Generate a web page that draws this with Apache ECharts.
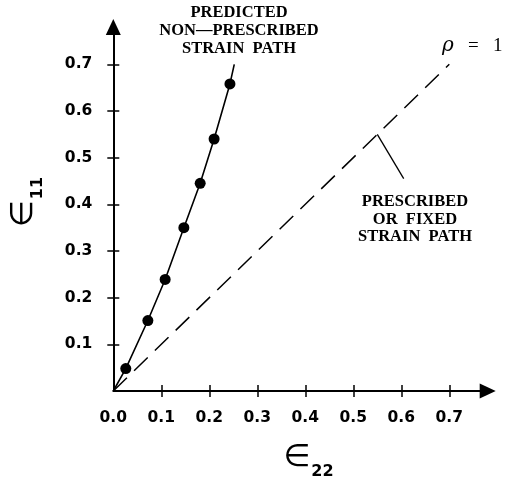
<!DOCTYPE html>
<html>
<head>
<meta charset="utf-8">
<script src="https://cdn.jsdelivr.net/npm/echarts@6/dist/echarts.min.js"></script>
<style>html,body{margin:0;padding:0;background:#fff}#c{width:506px;height:485px}</style>
</head>
<body>
<div id="c"></div>
<script>
// ---- data ----
const xTickValues = [0, 0.1, 0.2, 0.3, 0.4, 0.5, 0.6, 0.7];
const xTickLabels = ['0.0', '0.1', '0.2', '0.3', '0.4', '0.5', '0.6', '0.7'];
const yTickValues = [0.1, 0.2, 0.3, 0.4, 0.5, 0.6, 0.7];
const yTickLabels = ['0.1', '0.2', '0.3', '0.4', '0.5', '0.6', '0.7'];
// predicted non-prescribed strain path (measured points)
const predE22 = [0.026, 0.072, 0.108, 0.147, 0.181, 0.210, 0.243];
const predE11 = [0.048, 0.151, 0.239, 0.350, 0.445, 0.540, 0.658];
// predicted curve (origin, points, end)
const curveE22 = [0, 0.026, 0.072, 0.108, 0.147, 0.181, 0.210, 0.243, 0.252];
const curveE11 = [0, 0.048, 0.151, 0.239, 0.350, 0.445, 0.540, 0.658, 0.700];
// prescribed path rho = 1
const fixedE22 = [0, 0.7];
const fixedE11 = [0, 0.7];
// leader line for the prescribed-path label
const leaderE22 = [0.55, 0.605];
const leaderE11 = [0.55, 0.455];

const zip = (a, b) => a.map((v, i) => [v, b[i]]);
const lblMap = {};
xTickValues.forEach((v, i) => lblMap['x' + v] = xTickLabels[i]);
yTickValues.forEach((v, i) => lblMap['y' + v] = yTickLabels[i]);

const AX_MAX = 0.78;
const tickFont = {fontFamily: 'DejaVu Sans', fontWeight: 'bold', fontSize: 15.5, color: '#000'};
const annFont = {fontFamily: 'Liberation Serif', fontWeight: 'bold', fontSize: 16.5, fill: '#000'};
const titleRich = {
  e: {fontFamily: 'DejaVu Sans', fontSize: 31, color: '#000', verticalAlign: 'bottom'},
  s: {fontFamily: 'DejaVu Sans', fontWeight: 'bold', fontSize: 16, color: '#000', verticalAlign: 'bottom', padding: [0, 0, -7, 1]}
};

const chart = echarts.init(document.getElementById('c'));
chart.setOption({
  animation: false,
  backgroundColor: '#fff',
  grid: {left: 113.3, top: 27, width: 374.4, height: 369.7, containLabel: false},
  xAxis: [{
    type: 'value', min: 0, max: AX_MAX, position: 'bottom',
    splitLine: {show: false},
    axisLine: {show: true, onZero: false, symbol: ['none', 'triangle'], symbolSize: [15, 16],
      lineStyle: {color: '#000', width: 2}},
    axisTick: {show: true, length: 6, inside: false, customValues: xTickValues.slice(1),
      lineStyle: {color: '#000', width: 1.5}},
    axisLabel: Object.assign({show: true, margin: 19, customValues: xTickValues,
      formatter: v => lblMap['x' + Math.round(v * 10) / 10]}, tickFont),
    name: '{e|∈}{s|22}', nameLocation: 'middle', nameGap: 51,
    nameTextStyle: {padding: [0, 0, 0, 16], rich: titleRich}
  }, {
    type: 'value', min: 0, max: AX_MAX, position: 'bottom',
    splitLine: {show: false}, axisLine: {show: false},
    axisTick: {show: true, length: 6, inside: true, customValues: xTickValues.slice(1),
      lineStyle: {color: '#000', width: 1.5}},
    axisLabel: {show: false}
  }],
  yAxis: [{
    type: 'value', min: 0, max: AX_MAX, position: 'left',
    splitLine: {show: false},
    axisLine: {show: true, onZero: false, symbol: ['none', 'triangle'], symbolSize: [15, 16],
      lineStyle: {color: '#000', width: 2}},
    axisTick: {show: true, length: 6, inside: false, customValues: yTickValues,
      lineStyle: {color: '#000', width: 1.5}},
    axisLabel: Object.assign({show: true, margin: 21, customValues: yTickValues,
      formatter: v => lblMap['y' + Math.round(v * 10) / 10]}, tickFont),
    name: '{e|∈}{s|11}', nameLocation: 'middle', nameGap: 74, nameRotate: 90,
    nameTextStyle: {padding: [0, 0, 0, 14], rich: titleRich}
  }, {
    type: 'value', min: 0, max: AX_MAX, position: 'left',
    splitLine: {show: false}, axisLine: {show: false},
    axisTick: {show: true, length: 6, inside: true, customValues: yTickValues,
      lineStyle: {color: '#000', width: 1.5}},
    axisLabel: {show: false}
  }],
  series: [
    {name: 'ρ = 1', type: 'line', data: zip(fixedE22, fixedE11), showSymbol: false, symbol: 'none',
      lineStyle: {color: '#000', width: 1.5, type: [19, 10]}, z: 2},
    {name: 'predicted path', type: 'line', data: zip(curveE22, curveE11), showSymbol: false, symbol: 'none',
      lineStyle: {color: '#000', width: 1.6}, z: 3},
    {name: 'predicted points', type: 'scatter', data: zip(predE22, predE11), symbol: 'circle', symbolSize: 11,
      itemStyle: {color: '#000', opacity: 1}, z: 4},
    {name: 'leader', type: 'line', data: zip(leaderE22, leaderE11), showSymbol: false, symbol: 'none',
      lineStyle: {color: '#000', width: 1.3}, z: 3}
  ],
  graphic: [
    {type: 'text', style: Object.assign({text: 'PREDICTED\nNON—PRESCRIBED\nSTRAIN  PATH', x: 239, y: 4, align: 'center', lineHeight: 18}, annFont)},
    {type: 'text', style: Object.assign({text: 'PRESCRIBED\nOR  FIXED\nSTRAIN  PATH', x: 415, y: 193, align: 'center', lineHeight: 17.5}, annFont)},
    {type: 'text', style: {text: '{r|ρ}{t|   =   1}', x: 442, y: 36, rich: {
      r: {fontFamily: 'DejaVu Serif', fontStyle: 'italic', fontSize: 20, fill: '#000'},
      t: {fontFamily: 'Liberation Serif', fontSize: 19, fill: '#000'}
    }}}
  ]
});
</script>
</body>
</html>
